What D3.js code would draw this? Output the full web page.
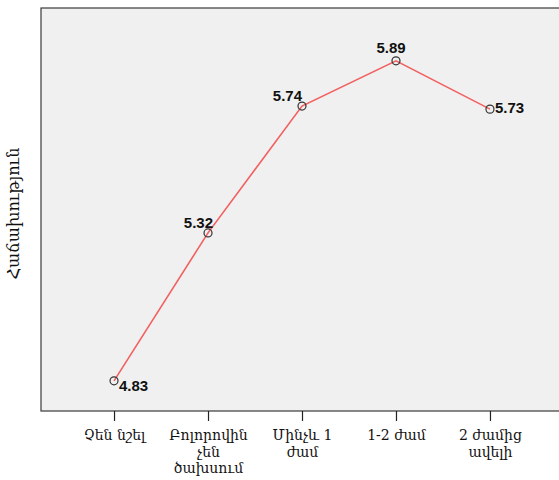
<!DOCTYPE html>
<html>
<head>
<meta charset="utf-8">
<script src="https://cdn.jsdelivr.net/npm/d3@7"></script>
<style>
  html, body { margin: 0; padding: 0; background: #ffffff; }
  svg { display: block; }
</style>
</head>
<body>
<svg id="chart" width="559" height="480"></svg>
<script>
// ---- data ----
const categories = ["Չեն նշել", "Բոլորովին չեն ծախսում", "Մինչև 1 ժամ", "1-2 ժամ", "2 ժամից ավելի"];
const tickLabelLines = [["Չեն նշել"], ["Բոլորովին", "չեն", "ծախսում"], ["Մինչև 1", "ժամ"], ["1-2 ժամ"], ["2 ժամից", "ավելի"]];
const values = [4.83, 5.32, 5.74, 5.89, 5.73];
const valueLabels = ["4.83", "5.32", "5.74", "5.89", "5.73"];
const yAxisTitle = "Հաճախություն";

// ---- label placement (style) ----
const labelAnchor = ["start", "end", "end", "middle", "start"];
const labelDx = [5, 5, 0, -5, 5];
const labelDy = [10, -5, -5, -8, 4];

// ---- layout ----
const svg = d3.select("#chart");
const plot = { left: 41, top: 8, right: 563, bottom: 411 };

const x = d3.scalePoint().domain(categories).range([plot.left, plot.right]).padding(0.777);
const y = d3.scaleLinear().domain([4.73, 6.065]).range([plot.bottom, plot.top]);

// plot background + frame
svg.append("rect")
  .attr("x", plot.left).attr("y", plot.top)
  .attr("width", plot.right - plot.left).attr("height", plot.bottom - plot.top)
  .attr("fill", "#f0f0f0")
  .attr("stroke", "#3a3a3a").attr("stroke-width", 1.2);

// x axis
const xAxis = svg.append("g")
  .attr("transform", `translate(0,${plot.bottom})`)
  .call(d3.axisBottom(x).tickSize(10).tickSizeOuter(0));
xAxis.select(".domain").remove();
xAxis.selectAll(".tick line").attr("stroke", "#222").attr("stroke-width", 1.2);
xAxis.selectAll(".tick text").each(function(d, i) {
  const t = d3.select(this);
  t.text(null)
   .attr("y", 0).attr("dy", null)
   .attr("fill", "#111")
   .style("font-family", "'DejaVu Serif', serif")
   .style("font-size", "14px");
  tickLabelLines[i].forEach((line, j) => {
    t.append("tspan").attr("x", 0).attr("y", 29 + j * 16.5).text(line);
  });
});

// y axis title
svg.append("text")
  .attr("transform", `translate(19,${(plot.top + plot.bottom) / 2 + 4}) rotate(-90)`)
  .attr("text-anchor", "middle")
  .style("font-family", "'DejaVu Serif', serif")
  .style("font-size", "16px")
  .attr("fill", "#111")
  .text(yAxisTitle);

// line
const line = d3.line()
  .x((d, i) => x(categories[i]))
  .y(d => y(d));
svg.append("path")
  .datum(values)
  .attr("d", line)
  .attr("fill", "none")
  .attr("stroke", "#f26060")
  .attr("stroke-width", 1.6);

// markers
svg.selectAll("circle.pt")
  .data(values)
  .enter().append("circle")
  .attr("class", "pt")
  .attr("cx", (d, i) => x(categories[i]))
  .attr("cy", d => y(d))
  .attr("r", 4)
  .attr("fill", "none")
  .attr("stroke", "#333")
  .attr("stroke-width", 1.2);

// value labels
svg.selectAll("text.val")
  .data(values)
  .enter().append("text")
  .attr("class", "val")
  .attr("x", (d, i) => x(categories[i]) + labelDx[i])
  .attr("y", (d, i) => y(d) + labelDy[i])
  .attr("text-anchor", (d, i) => labelAnchor[i])
  .style("font-family", "'Liberation Sans Narrow', 'Liberation Sans', Arial, sans-serif")
  .style("font-weight", "bold")
  .style("font-size", "15px")
  .attr("fill", "#111")
  .text((d, i) => valueLabels[i]);
</script>
</body>
</html>
